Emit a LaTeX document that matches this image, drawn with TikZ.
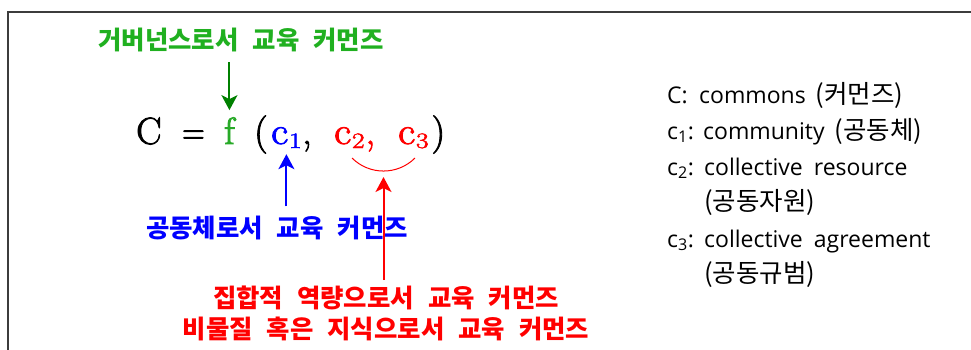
\documentclass[tikz,border=0pt]{standalone}
\usepackage{fontspec}
\newfontfamily\kr{Noto Sans CJK KR}
\newfontfamily\krl{Noto Sans CJK KR}
\newfontfamily\legf{Open Sans}
\newfontfamily\fmf{Latin Modern Roman}[FakeBold=2.2]
\usetikzlibrary{arrows.meta}
\definecolor{glbl}{RGB}{32,176,32}
\definecolor{gf}{RGB}{40,170,40}
\definecolor{garr}{RGB}{0,128,0}
\definecolor{bblue}{RGB}{0,0,255}
\definecolor{rred}{RGB}{255,0,0}
\definecolor{framec}{RGB}{60,60,60}
\newcommand{\csub}[1]{\scalebox{1.1}[1]{c}\kern0.8pt\raisebox{-4pt}{\fontsize{22}{24}\selectfont\scalebox{1.25}[1]{#1}}}
\newcommand{\legk}{\krl\fontsize{25.5}{28}\selectfont}
\newcommand{\kg}{\hspace{14pt}}
\tikzset{
  lbl/.style={inner sep=0pt, anchor=base, font=\kr\bfseries\fontsize{25.4}{28}\selectfont},
  fm/.style={inner sep=0pt, anchor=base west, font=\fmf\fontsize{38}{42}\selectfont},
  leg/.style={inner sep=0pt, anchor=base west, font=\legf\fontsize{23}{28}\selectfont},
  arr/.style={line width=2pt, -{Stealth[length=15pt,width=16pt,inset=4pt]}},
  frameline/.style={draw=framec, line width=1.6pt}
}
\begin{document}
\begin{tikzpicture}[x=1pt,y=-1pt]
\useasboundingbox (0,0) rectangle (971,349);
\fill[white] (0,0) rectangle (971,349);
\draw[frameline] (972,12) -- (8,12) -- (8,350);

% formula
\node[fm] (C) at (136,144) {C};
\node[fm] (eq) at (182,144) {\scalebox{0.82}[1]{=}};
\node[fm, text=gf] (f) at (224,144) {f};
\node[fm] (lp) at (254,144) {(};
\node[fm, text=bblue] (c1) at (271,144) {\csub{1}};
\node[fm] (k1) at (302,144) {,};
\node[fm, text=rred] (c2) at (334,144) {\csub{2}\kern1pt,};
\node[fm, text=rred] (c3) at (398,144) {\csub{3}};
\node[fm] (rp) at (431.5,144) {)};

% labels
\node[lbl, text=glbl] (gl) at (241,49.5) {거버넌스로서\kg 교육\kg 커먼즈};
\node[lbl, text=bblue] (bl) at (277,237) {공동체로서\kg 교육\kg 커먼즈};
\node[lbl, text=rred] (rl1) at (386,307) {집합적\kg 역량으로서\kg 교육\kg 커먼즈};
\node[lbl, text=rred] (rl2) at (386,338) {비물질\kg 혹은\kg 지식으로서\kg 교육\kg 커먼즈};

% arrows
\draw[arr, draw=garr, shorten <=10pt, shorten >=7pt] (gl.south -| f.north) -- (f.north);
\draw[arr, draw=bblue, shorten <=9pt, shorten >=6pt] (bl.north -| c1.south) -- (c1.south);
\coordinate (a2) at (352,158);
\coordinate (a3) at (415,158);
\draw[rred, line width=1pt] (a2) to[out=-45,in=-135] coordinate[pos=0.5] (am) (a3);
\draw[arr, draw=rred, shorten <=5pt, shorten >=6pt] (rl1.north -| am) -- (am);

% legend
\node[leg] (l1) at (667,103) {\makebox[32pt][l]{C:}commons\hspace{10pt}{\legk (커먼즈)}};
\node[leg] (l2) at (667,139) {\makebox[36pt][l]{c\textsubscript{1}:}community\hspace{10pt}{\legk (공동체)}};
\node[leg] (l3) at (667,175) {\makebox[37pt][l]{c\textsubscript{2}:}collective\hspace{11pt}resource};
\node[leg] (l4) at (704,210) {\legk (공동자원)};
\node[leg] (l5) at (667,247) {\makebox[37pt][l]{c\textsubscript{3}:}collective\hspace{11pt}agreement};
\node[leg] (l6) at (704,282) {\legk (공동규범)};
\end{tikzpicture}
\end{document}
